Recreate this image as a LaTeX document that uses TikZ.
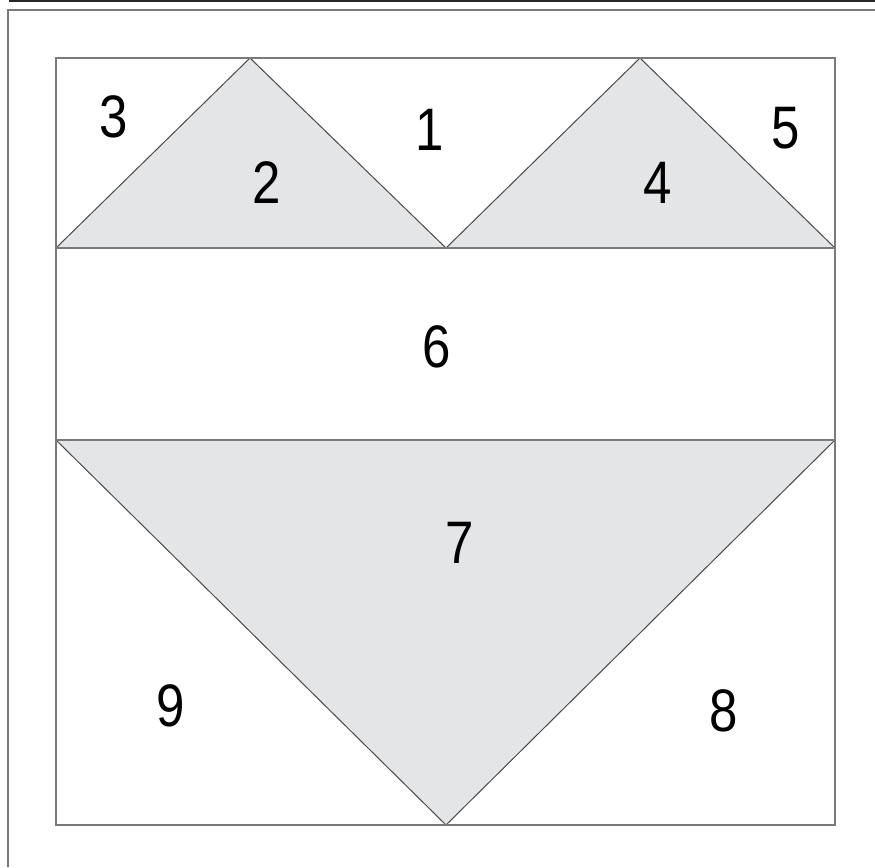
\documentclass[tikz,border=0pt]{standalone}
\usepackage{fontspec}
\setmainfont{Liberation Sans}
\definecolor{patch}{HTML}{E3E5E7}
\definecolor{seam}{HTML}{7A7A7A}
\definecolor{diag}{HTML}{4A4A4A}
\begin{document}
\begin{tikzpicture}[x=1pt,y=-1pt,
  num/.style={font=\fontsize{60}{64}\selectfont, xscale=0.85, inner sep=0pt},
  seamline/.style={draw=seam, line width=1.4pt},
  diagline/.style={draw=diag, line width=1pt},
  patchfill/.style={fill=patch}]
\useasboundingbox (0,0) rectangle (875,867);
\fill[white] (0,0) rectangle (875,867);
% outer frame
\coordinate (t1) at (9,0.8);
\coordinate (t2) at (875,0.8);
\coordinate (f1) at (7,10);
\coordinate (f2) at (875,10);
\coordinate (f3) at (8,867);
\draw[black!85, line width=1.6pt] (t1) -- (t2);
\draw[seamline] (f2) -- (f1 -| f3) -- (f3);
% key points
\coordinate (A) at (56,58);
\coordinate (B) at (835,58);
\coordinate (C) at (835,825);
\coordinate (D) at (56,825);
\coordinate (L1) at (56,248);
\coordinate (R1) at (835,248);
\coordinate (L2) at (56,440);
\coordinate (R2) at (835,440);
\coordinate (M1) at (446,248);
\coordinate (P1) at (250,58);
\coordinate (P2) at (640,58);
\coordinate (M2) at (446,825);
% gray patches
\fill[patchfill] (L1) -- (P1) -- (M1) -- cycle;
\fill[patchfill] (M1) -- (P2) -- (R1) -- cycle;
\fill[patchfill] (L2) -- (R2) -- (M2) -- cycle;
% diagonals
\draw[diagline] (L1) -- (P1) -- (M1) -- (P2) -- (R1);
\draw[diagline] (L2) -- (M2) -- (R2);
% seams
\draw[seamline] (A) rectangle (C);
\draw[seamline] (L1) -- (R1);
\draw[seamline] (L2) -- (R2);
% labels
\node[num] (n1) at (430,130) {1};
\node[num] (n2) at (267,183) {2};
\node[num] (n3) at (114,117) {3};
\node[num] (n4) at (658,183) {4};
\node[num] (n5) at (786,128) {5};
\node[num] (n6) at (437,347) {6};
\node[num] (n7) at (460,543) {7};
\node[num] (n8) at (724,711) {8};
\node[num] (n9) at (171,706) {9};
\end{tikzpicture}
\end{document}
